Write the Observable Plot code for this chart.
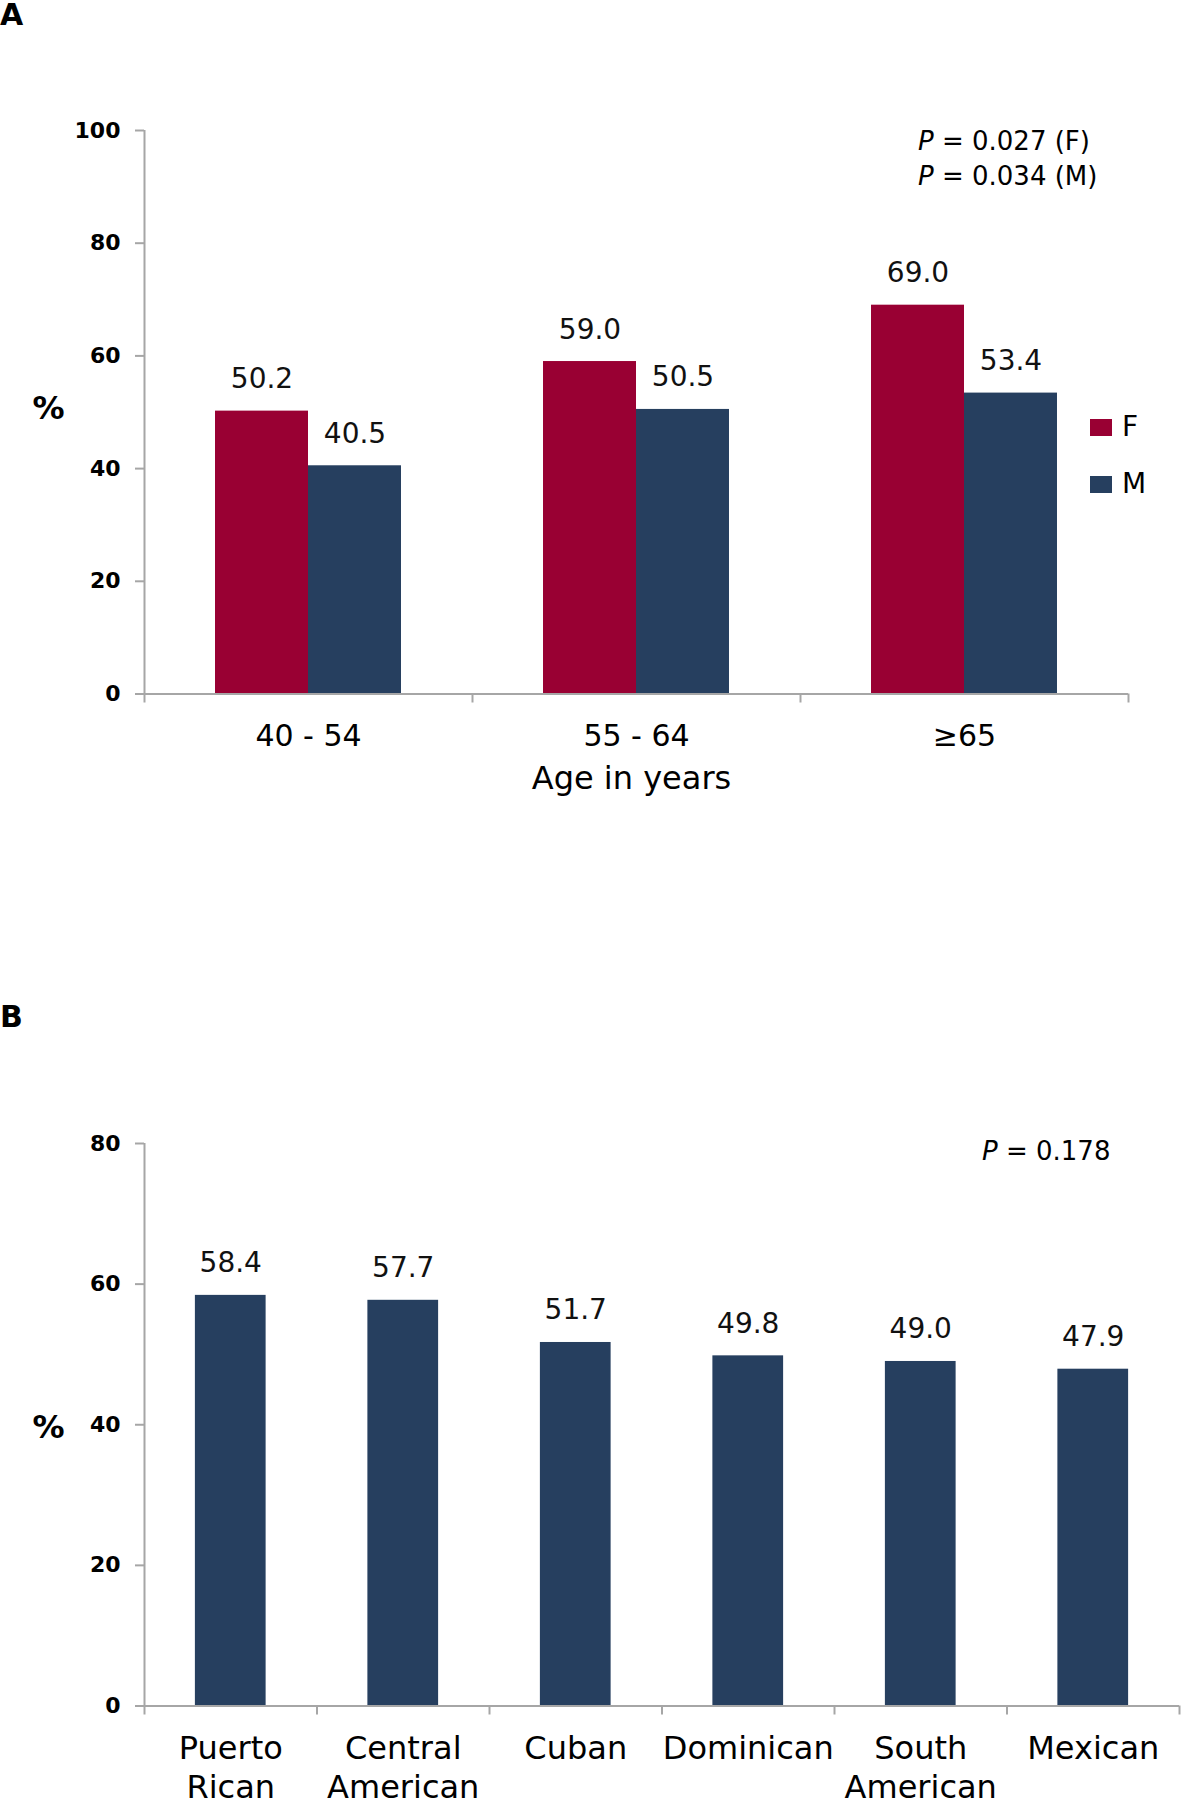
<!DOCTYPE html>
<html><head><meta charset="utf-8">
<script src="https://cdn.jsdelivr.net/npm/d3@7"></script>
<script src="https://cdn.jsdelivr.net/npm/@observablehq/plot@0.6"></script>
<style>
body{margin:0;background:#fff;font-family:"DejaVu Sans",sans-serif;}
#page{position:relative;width:1181px;height:1800px;overflow:hidden;background:#fff;}
.abs{position:absolute;line-height:1;white-space:nowrap;color:#000;}
.panel{font-weight:bold;font-size:30px;}
.pv{font-size:26px;}
.leg{font-size:28px;}
.sw{position:absolute;width:22px;height:17px;}
#chartA{position:absolute;left:0;top:0;}
#chartB{position:absolute;left:0;top:900px;}
</style></head><body>
<div id="page">
  <div id="chartA"></div>
  <div id="chartB"></div>
  <div class="abs panel" style="left:0;top:0;">A</div>
  <div class="abs panel" style="left:0;top:1002px;">B</div>
  <div class="abs pv" style="left:918px;top:128px;"><i>P</i> = 0.027 (F)</div>
  <div class="abs pv" style="left:918px;top:163px;"><i>P</i> = 0.034 (M)</div>
  <div class="abs pv" style="left:982px;top:1138px;"><i>P</i> = 0.178</div>
  <div class="sw" style="left:1090px;top:419px;background:#990033;"></div>
  <div class="abs leg" style="left:1122px;top:413px;">F</div>
  <div class="sw" style="left:1090px;top:476px;background:#263f5f;"></div>
  <div class="abs leg" style="left:1122px;top:470px;">M</div>
</div>
<script>
// ---- data ----
const ageGroups = ["40 - 54", "55 - 64", "≥65"];
const femaleValues = [50.2, 59.0, 69.0];
const maleValues = [40.5, 50.5, 53.4];
const sexes = ["F", "M"];
const sexColors = ["#990033", "#263f5f"];
const yTicksA = [0, 20, 40, 60, 80, 100];

const originGroups = ["Puerto\nRican", "Central\nAmerican", "Cuban", "Dominican", "South\nAmerican", "Mexican"];
const originValues = [58.4, 57.7, 51.7, 49.8, 49.0, 47.9];
const yTicksB = [0, 20, 40, 60, 80];

// ---- layout constants ----
const axisGrey = "#a6a6a6";
const groupGap = 0.2165;   // fraction of a group left empty on each side
const barFrac = 0.2835;    // fraction of a group per bar (panel A)
const barFracB = 0.41;     // fraction of a category per bar (panel B)

const rowsA = ageGroups.flatMap((g, i) => [
  {i, group: g, sex: "F", value: femaleValues[i]},
  {i, group: g, sex: "M", value: maleValues[i]}
]);
const x1A = d => d.i + groupGap + (d.sex === "M" ? barFrac : 0);
const x2A = d => x1A(d) + barFrac;

const commonStyle = {fontFamily: "DejaVu Sans", background: "white", overflow: "visible"};
const yAxisOpts = {tickSize: 9, tickPadding: 15, stroke: axisGrey, strokeWidth: 2, color: "black", fontWeight: "bold", fontSize: 22, tickFormat: d => String(d), label: null};

const plotA = Plot.plot({
  width: 1181, height: 820,
  marginTop: 130, marginBottom: 126.5, marginLeft: 144, marginRight: 53,
  style: commonStyle,
  x: {domain: [0, ageGroups.length]},
  y: {domain: [0, 100]},
  color: {domain: sexes, range: sexColors},
  marks: [
    Plot.rectY(rowsA, {x1: x1A, x2: x2A, y: "value", fill: "sex"}),
    Plot.text(rowsA, {x: d => (x1A(d) + x2A(d)) / 2, y: "value", text: d => d.value.toFixed(1), dy: -32, fontSize: 28, fill: "#111"}),
    Plot.ruleX([0], {stroke: axisGrey, strokeWidth: 2}),
    Plot.ruleY([0], {stroke: axisGrey, strokeWidth: 2}),
    Plot.axisY({ticks: yTicksA, ...yAxisOpts}),
    Plot.axisX({ticks: d3.range(ageGroups.length + 1), tickSize: 9, stroke: axisGrey, strokeWidth: 2, tickFormat: () => "", label: null}),
    Plot.text(ageGroups, {x: (d, i) => i + 0.5, frameAnchor: "bottom", lineAnchor: "top", dy: 31, fontSize: 30, fill: "black", text: d => d}),
    Plot.text(["Age in years"], {frameAnchor: "bottom", lineAnchor: "top", dy: 72, dx: -5, fontSize: 32, fill: "black"}),
    Plot.text(["%"], {frameAnchor: "left", textAnchor: "middle", dx: -96, dy: -4, fontSize: 32, fontWeight: "bold", fill: "black"})
  ]
});
document.getElementById("chartA").appendChild(plotA);

const rowsB = originGroups.map((g, i) => ({i, group: g, value: originValues[i]}));
const x1B = d => d.i + (1 - barFracB) / 2;
const x2B = d => d.i + (1 + barFracB) / 2;

const plotB = Plot.plot({
  width: 1181, height: 900,
  marginTop: 243, marginBottom: 94.5, marginLeft: 144, marginRight: 2,
  style: commonStyle,
  x: {domain: [0, originGroups.length]},
  y: {domain: [0, 80]},
  marks: [
    Plot.rectY(rowsB, {x1: x1B, x2: x2B, y: "value", fill: sexColors[1]}),
    Plot.text(rowsB, {x: d => d.i + 0.5, y: "value", text: d => d.value.toFixed(1), dy: -32, fontSize: 28, fill: "#111"}),
    Plot.ruleX([0], {stroke: axisGrey, strokeWidth: 2}),
    Plot.ruleY([0], {stroke: axisGrey, strokeWidth: 2}),
    Plot.axisY({ticks: yTicksB, ...yAxisOpts}),
    Plot.axisX({ticks: d3.range(originGroups.length + 1), tickSize: 9, stroke: axisGrey, strokeWidth: 2, tickFormat: () => "", label: null}),
    Plot.text(originGroups, {x: (d, i) => i + 0.5, frameAnchor: "bottom", lineAnchor: "top", dy: 25, fontSize: 32, lineHeight: 1.22, fill: "black", text: d => d}),
    Plot.text(["%"], {frameAnchor: "left", textAnchor: "middle", dx: -96, dy: 3, fontSize: 32, fontWeight: "bold", fill: "black"})
  ]
});
document.getElementById("chartB").appendChild(plotB);
</script>
</body></html>
